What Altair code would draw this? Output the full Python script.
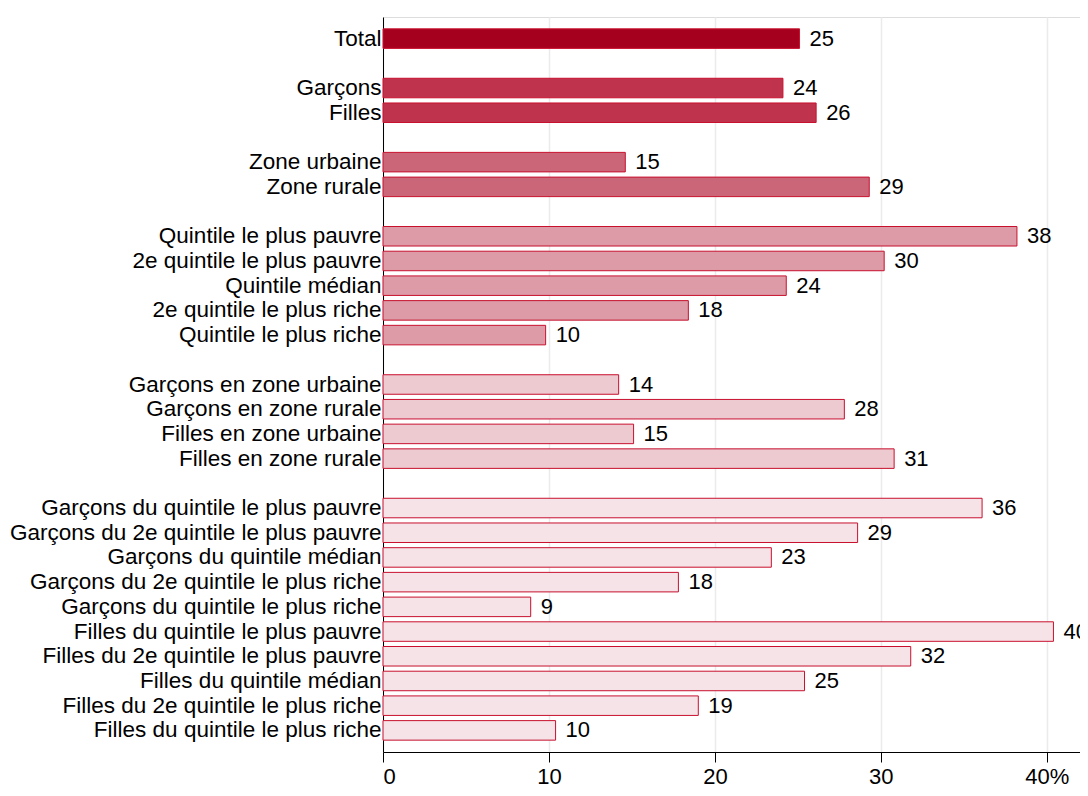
import altair as alt
import pandas as pd

# Categories (top to bottom), group id for colour, values (%)
categories = [
    "Total",
    "Garçons", "Filles",
    "Zone urbaine", "Zone rurale",
    "Quintile le plus pauvre", "2e quintile le plus pauvre", "Quintile médian",
    "2e quintile le plus riche", "Quintile le plus riche",
    "Garçons en zone urbaine", "Garçons en zone rurale",
    "Filles en zone urbaine", "Filles en zone rurale",
    "Garçons du quintile le plus pauvre", "Garçons du 2e quintile le plus pauvre",
    "Garçons du quintile médian", "Garçons du 2e quintile le plus riche",
    "Garçons du quintile le plus riche",
    "Filles du quintile le plus pauvre", "Filles du 2e quintile le plus pauvre",
    "Filles du quintile médian", "Filles du 2e quintile le plus riche",
    "Filles du quintile le plus riche",
]
groups = [0, 1, 1, 2, 2, 3, 3, 3, 3, 3, 4, 4, 4, 4,
          5, 5, 5, 5, 5, 5, 5, 5, 5, 5]
values = [25.1, 24.1, 26.1, 14.6, 29.3, 38.2, 30.2, 24.3, 18.4, 9.8,
          14.2, 27.8, 15.1, 30.8, 36.1, 28.6, 23.4, 17.8, 8.9,
          40.4, 31.8, 25.4, 19.0, 10.4]
group_colors = ["#A6001F", "#C0334D", "#CB6678", "#DD9BA7", "#EDC9D0", "#F5E3E7"]
x_ticks = [0, 10, 20, 30, 40]

# row order with blank spacer rows between groups
row_order = []
prev = None
spacer = 1
for c, g in zip(categories, groups):
    if prev is not None and g != prev:
        row_order.append(" " * spacer)
        spacer += 1
    row_order.append(c)
    prev = g

df = pd.DataFrame({"cat": categories, "grp": [str(g) for g in groups], "val": values})

font = "Liberation Sans"

y_enc = alt.Y("cat:N", scale=alt.Scale(domain=row_order, paddingInner=0.21, paddingOuter=0.48),
              axis=alt.Axis(title=None, ticks=False, tickSize=0, grid=False, domainColor="black",
                            domainWidth=1, labelFontSize=22.5, labelColor="black", labelFont=font,
                            labelPadding=2, labelLimit=0))
x_enc = alt.X("val:Q", scale=alt.Scale(domain=[0, 42], nice=False, zero=True),
              axis=alt.Axis(title=None, values=x_ticks, grid=True, gridColor="#EBEBEB", gridWidth=1.5,
                            domainColor="black", tickColor="black", tickSize=10, tickWidth=1,
                            labelFontSize=22, labelColor="black", labelFont=font, labelPadding=4,
                            labelExpr="datum.value == 40 ? '40%' : datum.label"))

bars = alt.Chart(df).mark_bar(stroke="#C8102E", strokeWidth=1).encode(
    y=y_enc,
    x=x_enc,
    color=alt.Color("grp:N", scale=alt.Scale(domain=[str(i) for i in range(6)], range=group_colors), legend=None),
)

labels = alt.Chart(df).mark_text(align="left", baseline="middle", dx=10, fontSize=22, font=font,
                                 color="black").encode(
    y=alt.Y("cat:N", scale=alt.Scale(domain=row_order)),
    x="val:Q",
    text=alt.Text("val:Q", format=".0f"),
)

chart = alt.layer(bars, labels).properties(
    width=697, height=735,
    autosize=alt.AutoSizeParams(type="none"),
    padding={"left": 375, "top": 9, "right": 0, "bottom": 36},
).configure_view(stroke=None).configure(background="white")

chart.save("out.html", embed_options={"renderer": "svg", "actions": False})
